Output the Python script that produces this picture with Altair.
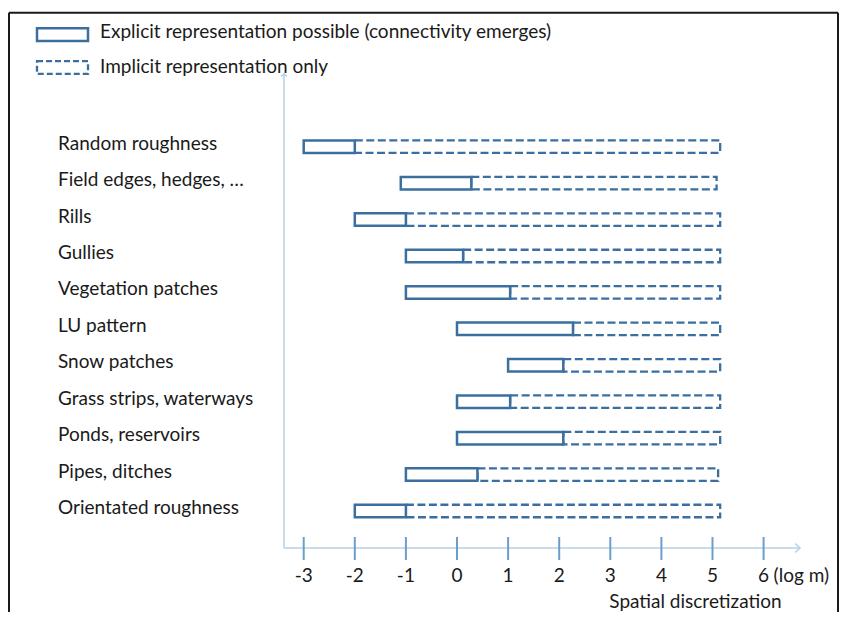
import altair as alt
import pandas as pd

# ---------------- data ----------------
categories = [
    "Random roughness",
    "Field edges, hedges, …",
    "Rills",
    "Gullies",
    "Vegetation patches",
    "LU pattern",
    "Snow patches",
    "Grass strips, waterways",
    "Ponds, reservoirs",
    "Pipes, ditches",
    "Orientated roughness",
]
explicit_start = [-3.0, -1.1, -2.0, -1.0, -1.0, 0.0, 1.0, 0.0, 0.0, -1.0, -2.0]
explicit_end = [-2.0, 0.28, -1.0, 0.12, 1.04, 2.27, 2.08, 1.04, 2.08, 0.4, -1.0]
implicit_end = [5.15, 5.08, 5.15, 5.15, 5.15, 5.15, 5.15, 5.15, 5.15, 5.11, 5.15]

tick_values = [-3, -2, -1, 0, 1, 2, 3, 4, 5, 6]
tick_labels = ["-3", "-2", "-1", "0", "1", "2", "3", "4", "5", "6"]
axis_unit = "(log m)"
axis_title = "Spatial discretization"
legend_labels = [
    "Explicit representation possible (connectivity emerges)",
    "Implicit representation only",
]

# ---------------- style ----------------
FONT = "Lato"
FS = 19
TXT = "#1a1a1a"
BLUE = "#3a6f9f"
AXIS = "#b5d0e6"
TICK = "#6b9fcb"
W, H = 831, 604

df = pd.DataFrame({
    "feature": categories,
    "exp_start": explicit_start,
    "exp_end": explicit_end,
    "imp_end": implicit_end,
})
ticks = pd.DataFrame({"tick": tick_values, "label": tick_labels})
one = pd.DataFrame({"a": [0]})

x_scale = alt.Scale(domain=[-3, 6], range=[295.7, 755.6], zero=False, nice=False)
y_scale = alt.Scale(domain=categories, range=[120.5, 521.2], paddingInner=0, paddingOuter=0)

base = alt.Chart(df)
Y = alt.Y("feature:N", scale=y_scale, axis=None, sort=categories)

dashed = base.mark_bar(size=12.5, fill="white", stroke=BLUE, strokeWidth=2.3,
                       strokeDash=[8, 3.5]).encode(
    x=alt.X("exp_end:Q", scale=x_scale, axis=None),
    x2="imp_end:Q",
    y=Y,
)
solid = base.mark_bar(size=12.5, fill="white", stroke=BLUE, strokeWidth=2.5).encode(
    x=alt.X("exp_start:Q", scale=x_scale, axis=None),
    x2="exp_end:Q",
    y=Y,
)
labels = base.mark_text(align="left", baseline="middle", font=FONT, fontSize=FS,
                        color=TXT, dy=-3).encode(
    x=alt.value(50),
    y=Y,
    text="feature:N",
)

# axes (custom arrows)
yaxis_line = alt.Chart(one).mark_rule(color=AXIS, strokeWidth=1.5).encode(
    x=alt.value(276), y=alt.value(66), y2=alt.value(540))
xaxis_line = alt.Chart(one).mark_rule(color=AXIS, strokeWidth=1.5).encode(
    x=alt.value(276), x2=alt.value(792), y=alt.value(540))
up_arrow = alt.Chart(one).mark_point(shape="M-1,0.8L0,0L1,0.8", size=36, filled=False,
                                     color=AXIS, strokeWidth=1.5, opacity=1).encode(
    x=alt.value(276), y=alt.value(66))
right_arrow = alt.Chart(one).mark_point(shape="M-1.1,-1L0,0L-1.1,1", size=81, filled=False,
                                        color=AXIS, strokeWidth=1.5, opacity=1).encode(
    x=alt.value(792), y=alt.value(540))

tick_marks = alt.Chart(ticks).mark_rule(color=TICK, strokeWidth=2).encode(
    x=alt.X("tick:Q", scale=x_scale, axis=None), y=alt.value(529), y2=alt.value(552))
tick_text = alt.Chart(ticks).mark_text(align="center", baseline="middle", font=FONT,
                                       fontSize=FS, color=TXT).encode(
    x=alt.X("tick:Q", scale=x_scale, axis=None), y=alt.value(568), text="label:N")
unit_text = alt.Chart(pd.DataFrame({"tick": [tick_values[-1]], "t": [axis_unit]})).mark_text(
    align="left", baseline="middle", font=FONT, fontSize=FS, color=TXT, dx=10).encode(
    x=alt.X("tick:Q", scale=x_scale, axis=None), y=alt.value(568), text="t:N")
title_text = alt.Chart(pd.DataFrame({"tick": [3], "t": [axis_title]})).mark_text(
    align="left", baseline="middle", font=FONT, fontSize=FS, color=TXT, dx=-1).encode(
    x=alt.X("tick:Q", scale=x_scale, axis=None), y=alt.value(594), text="t:N")

# legend
RECT = "M-1,-0.25L1,-0.25L1,0.25L-1,0.25Z"
leg_df = pd.DataFrame({"t": [legend_labels[0]]})
leg_df2 = pd.DataFrame({"t": [legend_labels[1]]})
leg_solid = alt.Chart(leg_df).mark_point(shape=RECT, size=2601, filled=False, fill="white",
                                         stroke=BLUE, strokeWidth=2.5, opacity=1).encode(
    x=alt.value(54.5), y=alt.value(26.5))
leg_dash = alt.Chart(leg_df2).mark_point(shape=RECT, size=2601, filled=False, fill="white",
                                         stroke=BLUE, strokeWidth=2.3, strokeDash=[6, 3],
                                         opacity=1).encode(
    x=alt.value(54.5), y=alt.value(59.5))
leg_t1 = alt.Chart(leg_df).mark_text(align="left", baseline="middle", font=FONT,
                                     fontSize=FS, color=TXT).encode(
    x=alt.value(92), y=alt.value(24), text="t:N")
leg_t2 = alt.Chart(leg_df2).mark_text(align="left", baseline="middle", font=FONT,
                                      fontSize=FS, color=TXT).encode(
    x=alt.value(92), y=alt.value(59), text="t:N")

# frame
frame_top = alt.Chart(one).mark_rule(color="#1a1a1a", strokeWidth=2).encode(
    x=alt.value(1), x2=alt.value(830), y=alt.value(4.7))
frame_left = alt.Chart(one).mark_rule(color="#1a1a1a", strokeWidth=2).encode(
    x=alt.value(1), y=alt.value(4.7), y2=alt.value(H))
frame_right = alt.Chart(one).mark_rule(color="#1a1a1a", strokeWidth=2).encode(
    x=alt.value(830), y=alt.value(4.7), y2=alt.value(H))

chart = alt.layer(
    frame_top, frame_left, frame_right,
    yaxis_line, xaxis_line, up_arrow, right_arrow,
    tick_marks, tick_text, unit_text, title_text,
    dashed, solid, labels,
    leg_solid, leg_dash, leg_t1, leg_t2,
).properties(
    width=W, height=H,
    autosize=alt.AutoSizeParams(type="none"),
    padding=0,
    background="white",
).configure_view(stroke=None)

chart.save("out.html", embed_options={"renderer": "svg", "actions": False})
